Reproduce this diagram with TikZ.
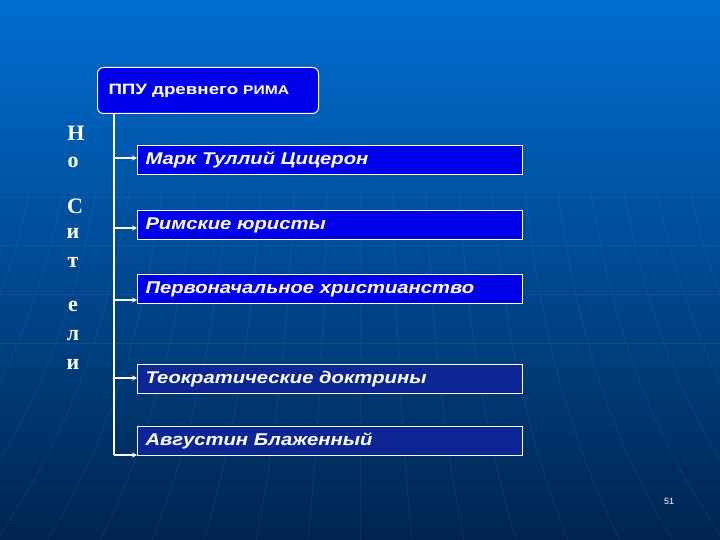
\documentclass[tikz,border=0pt]{standalone}
\usepackage{fontspec}
\setmainfont{Liberation Sans}
\newfontfamily\boxfont[FakeStretch=1.19]{Liberation Sans}
\newfontfamily\topfont[FakeStretch=1.25]{Liberation Sans}
\newfontfamily\letterfont{Liberation Serif}
\usetikzlibrary{arrows.meta,calc}
\definecolor{bgtop}{RGB}{0,110,210}
\definecolor{bgmid}{RGB}{0,78,160}
\definecolor{bgbot}{RGB}{0,36,80}
\definecolor{boxblue}{RGB}{0,0,235}
\definecolor{boxdark}{RGB}{12,38,150}
\definecolor{gridline}{RGB}{90,160,240}
\begin{document}
\begin{tikzpicture}[x=1pt,y=-1pt,
  itembox/.style={draw=white, line width=1pt, fill=boxblue, minimum width=385pt, minimum height=29pt,
     text width=369pt, align=left, inner xsep=8pt, inner ysep=6pt, anchor=north west, text=white,
     font=\boxfont\bfseries\itshape\fontsize{17}{19}\selectfont},
  darkbox/.style={itembox, fill=boxdark},
  topbox/.style={draw=white, line width=1pt, fill=boxblue, rounded corners=6pt, minimum width=221pt,
     minimum height=46pt, text width=199pt, align=left, inner sep=11pt, anchor=north west, text=white,
     font=\topfont\bfseries\fontsize{15}{17}\selectfont},
  letter/.style={text=white, font=\letterfont\bfseries\fontsize{22}{23}\selectfont, inner sep=0pt},
  conn/.style={draw=white, line width=1.3pt},
  arr/.style={conn, -{Stealth[length=5pt,width=5pt]}},
  bgl/.style={draw=gridline, opacity=0.13, line width=0.8pt}]
\useasboundingbox (0,0) rectangle (720,540);
\shade[top color=bgtop, middle color=bgmid, bottom color=bgbot] (0,0) rectangle (720,540);
% faint background lines
\foreach \yy in {197,245,294,343} \draw[bgl] (0,\yy) -- (720,\yy);
\foreach \k in {-10,...,10} {
  \draw[bgl] ({360+\k*33},190) .. controls ({360+\k*36},330) and ({360+\k*42},440) .. ({360+\k*52},540);
}
% top box
\node[topbox] (top) at (97,67) {ППУ древнего {\fontsize{12.5}{14}\selectfont РИМА}\vphantom{Ig}\\[6pt]};
% item boxes
\node[itembox] (b1) at (137,145) {Марк Туллий Цицерон};
\node[itembox] (b2) at (137,210) {Римские юристы};
\node[itembox] (b3) at (137,274) {Первоначальное христианство};
\node[darkbox] (b4) at (137,364) {Теократические доктрины};
\node[darkbox] (b5) at (137,426) {Августин Блаженный};
% trunk and arrows
\coordinate (t0) at ($(top.south west)+(17,0)$);
\coordinate (t1) at (114,158);
\coordinate (t2) at (114,228);
\coordinate (t3) at (114,300);
\coordinate (t4) at (114,378);
\coordinate (t5) at (114,455);
\draw[conn] (t0) -- (t5);
\draw[arr] (t1) -- (t1 -| b1.west);
\draw[arr] (t2) -- (t2 -| b2.west);
\draw[arr] (t3) -- (t3 -| b3.west);
\draw[arr] (t4) -- (t4 -| b4.west);
\draw[arr] (t5) -- (t5 -| b5.west);
% vertical letters
\node[letter] (l1) at (76,133) {Н};
\node[letter] (l2) at (73,162) {о};
\node[letter] (l3) at (75,206) {С};
\node[letter] (l4) at (73,233) {и};
\node[letter] (l5) at (73,262) {т};
\node[letter] (l6) at (73,306) {е};
\node[letter] (l7) at (73,336) {л};
\node[letter] (l8) at (73,364) {и};
% page number
\node[text=white, font=\fontsize{9}{10}\selectfont, inner sep=0pt] (pg) at (669,501) {51};
\end{tikzpicture}
\end{document}
